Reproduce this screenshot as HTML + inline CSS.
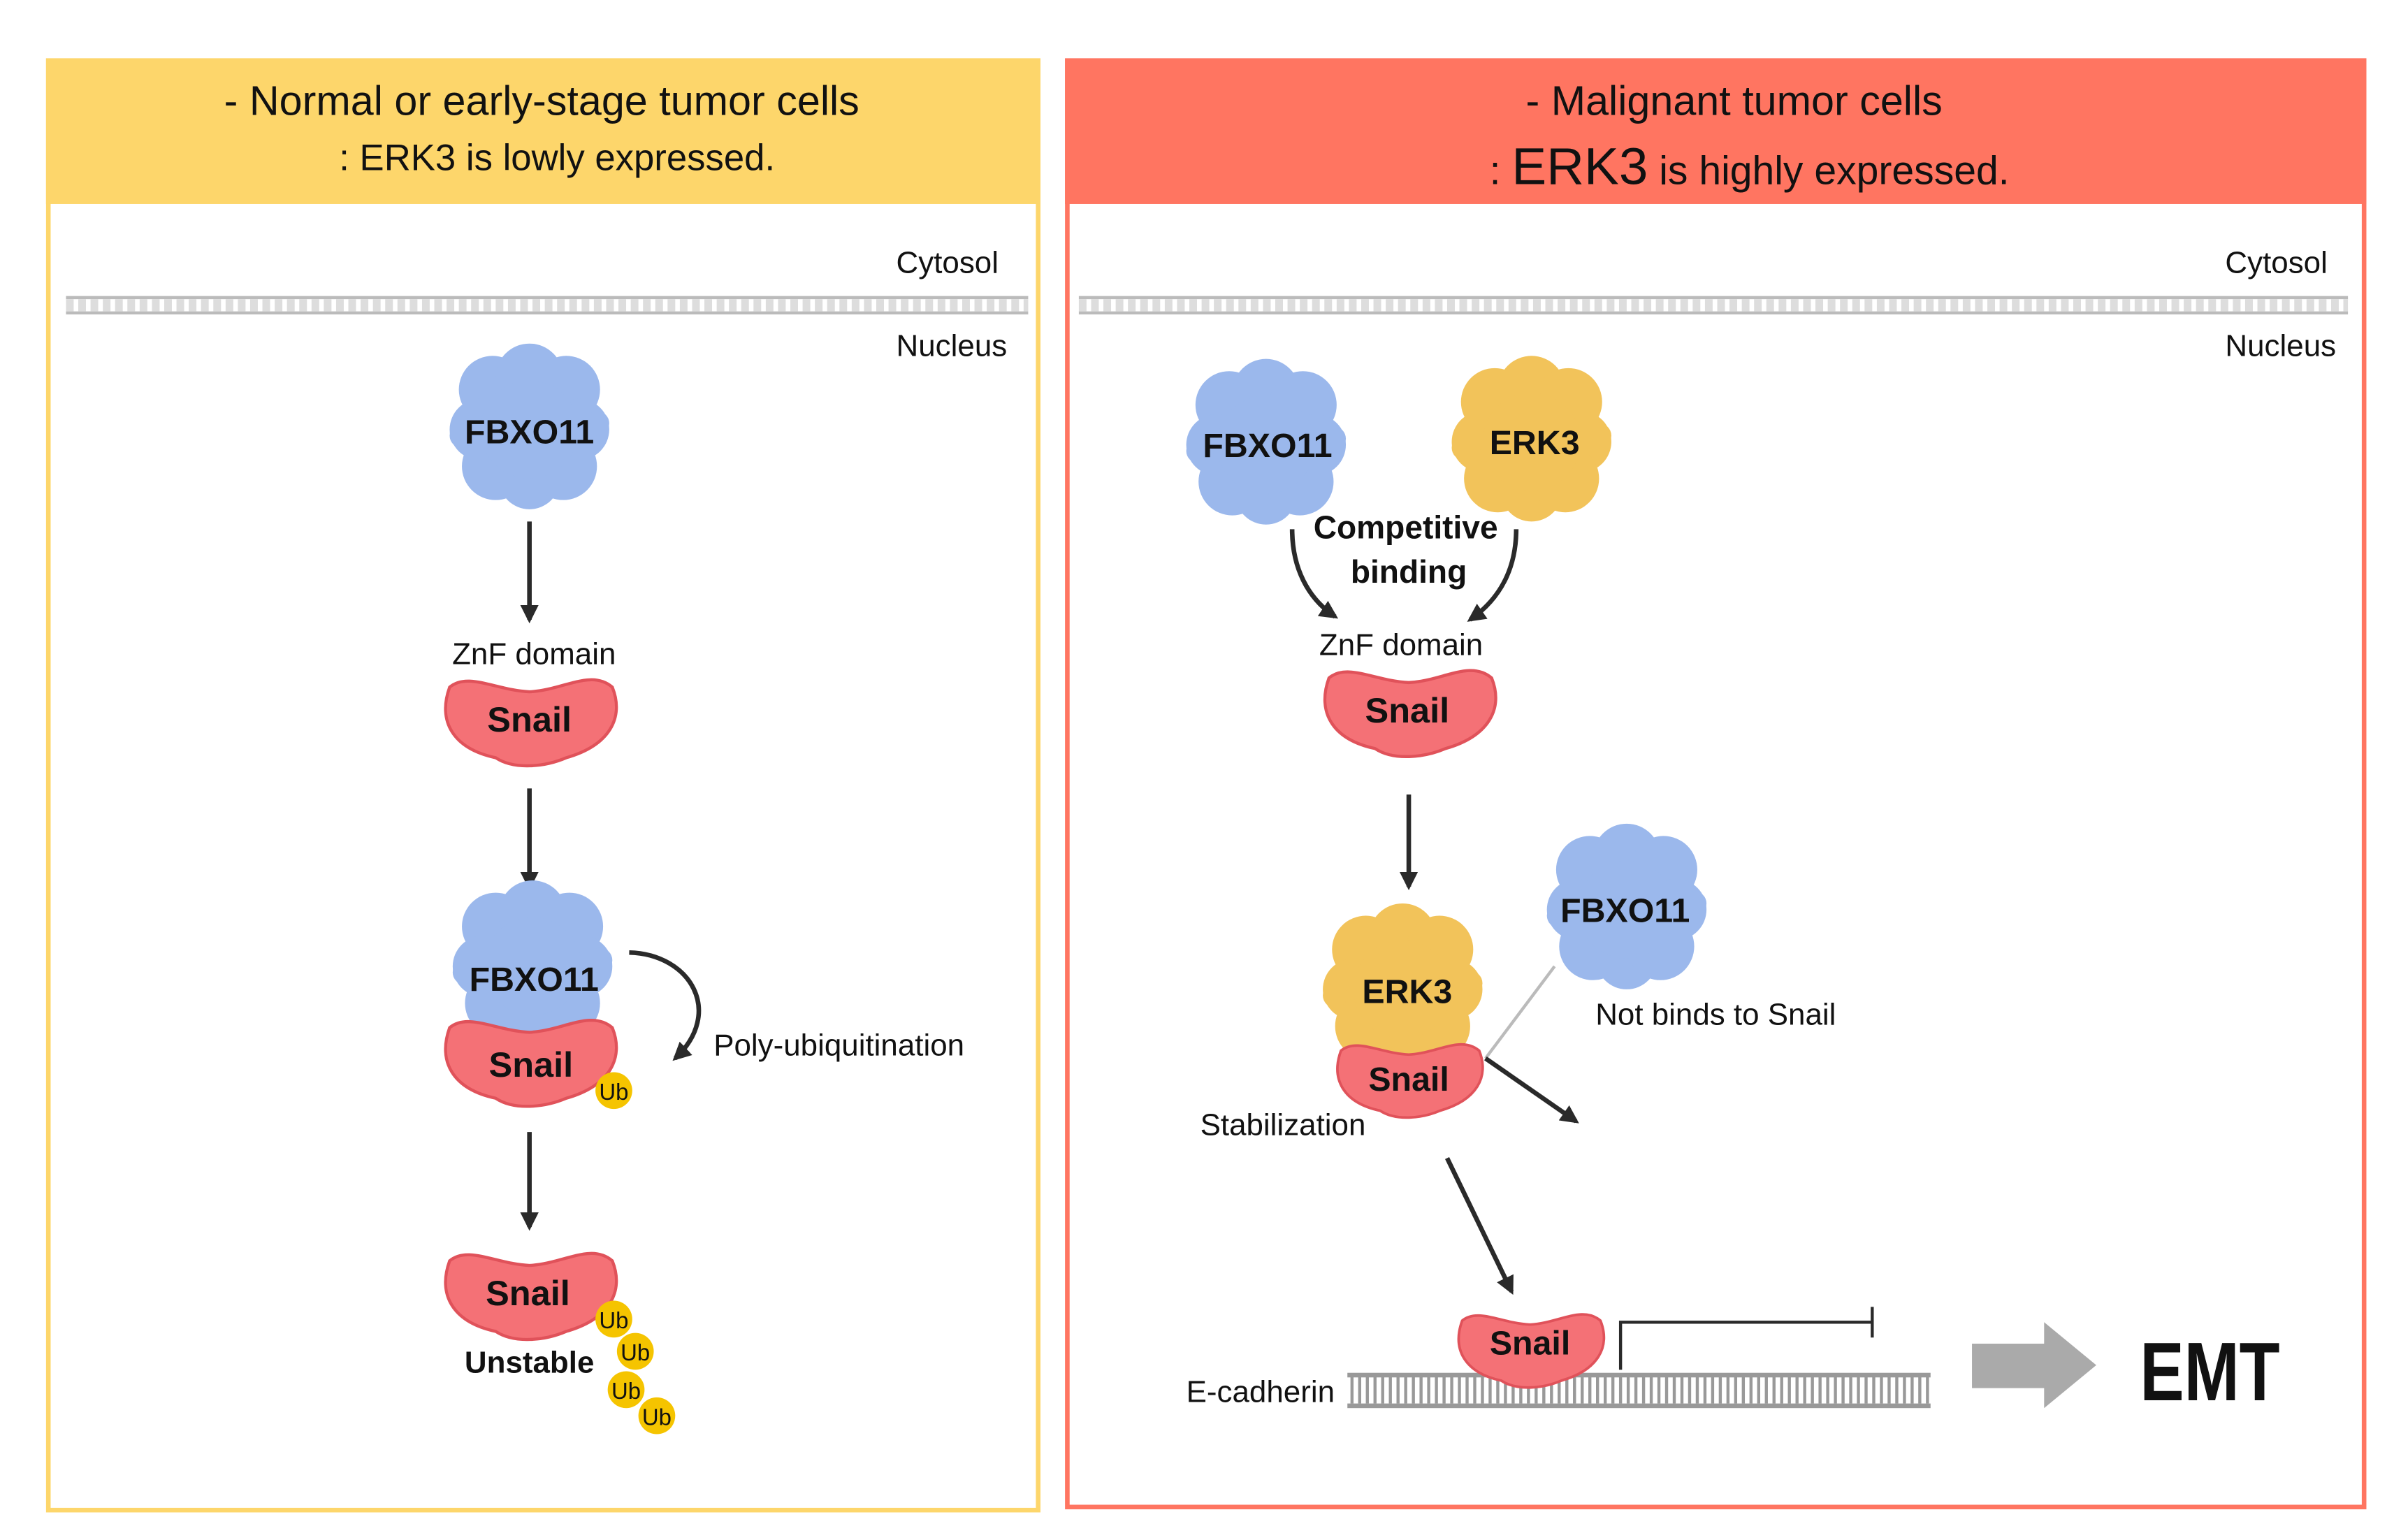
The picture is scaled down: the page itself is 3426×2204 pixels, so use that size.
<!DOCTYPE html>
<html><head><meta charset="utf-8"><style>
html,body{margin:0;padding:0;background:#fff;}
svg{display:block;}
text{font-family:"Liberation Sans",sans-serif;fill:#111;}
.b{font-weight:bold;}
</style></head><body>
<svg width="3426" height="2204" viewBox="0 0 1560 1004" preserveAspectRatio="none" xmlns="http://www.w3.org/2000/svg">
<defs>
<g id="cl">
<circle cx="-24" cy="-26" r="22"/><circle cx="0" cy="-34" r="22"/><circle cx="24" cy="-26" r="22"/>
<circle cx="-32" cy="0" r="20"/><circle cx="32" cy="0" r="20"/><circle cx="-22" cy="24" r="22"/>
<circle cx="0" cy="32" r="20"/><circle cx="22" cy="24" r="22"/><circle cx="0" cy="0" r="32"/>
<circle cx="-44" cy="4" r="8"/><circle cx="44" cy="-4" r="8"/>
</g>
<path id="sn" d="M-52,-20 C-40,-30 -22,-18 0,-17 C22,-18 40,-32 54,-20 C62,0 52,18 24,26 C10,32 -10,34 -22,26 C-50,20 -60,2 -52,-20Z"/>
<marker id="ah" viewBox="0 0 10 10" refX="8" refY="5" markerWidth="4" markerHeight="4" orient="auto"><path d="M0,0 L10,5 L0,10Z" fill="#2a2a2a"/></marker>
</defs>
<rect width="1560" height="1004" fill="#fff"/>
<!-- left panel -->
<rect x="31.5" y="39.5" width="645" height="945" fill="#fff" stroke="#FDD66B" stroke-width="3"/>
<rect x="30" y="38" width="648" height="95" fill="#FDD66B"/>
<text x="353" y="75" text-anchor="middle" font-size="27">- Normal or early-stage tumor cells</text>
<text x="363" y="111" text-anchor="middle" font-size="24">: ERK3 is lowly expressed.</text>
<!-- right panel -->
<rect x="695.5" y="39.5" width="845" height="943" fill="#fff" stroke="#FF7561" stroke-width="3"/>
<rect x="694" y="38" width="848" height="95" fill="#FF7561"/>
<text x="1130" y="75" text-anchor="middle" font-size="27">- Malignant tumor cells</text>
<text x="1140" y="120" text-anchor="middle" font-size="26">: <tspan font-size="34">ERK3</tspan> is highly expressed.</text>
<!-- membranes -->
<g stroke="#bbb" stroke-width="2">
<line x1="43" y1="194" x2="670" y2="194"/><line x1="43" y1="204" x2="670" y2="204"/>
<line x1="43" y1="199" x2="670" y2="199" stroke-dasharray="5,3" stroke="#ddd" stroke-width="8"/>
<line x1="703" y1="194" x2="1530" y2="194"/><line x1="703" y1="204" x2="1530" y2="204"/>
<line x1="703" y1="199" x2="1530" y2="199" stroke-dasharray="5,3" stroke="#ddd" stroke-width="8"/>
</g>
<text x="584" y="178" font-size="20">Cytosol</text>
<text x="584" y="232" font-size="20">Nucleus</text>
<text x="1450" y="178" font-size="20">Cytosol</text>
<text x="1450" y="232" font-size="20">Nucleus</text>

<!-- LEFT column -->
<use href="#cl" x="345" y="280" fill="#9BB8EC"/>
<text x="345" y="289" text-anchor="middle" font-size="22" class="b">FBXO11</text>
<line x1="345" y1="340" x2="345" y2="404" stroke="#2a2a2a" stroke-width="3" marker-end="url(#ah)"/>
<text x="348" y="433" text-anchor="middle" font-size="20">ZnF domain</text>
<use href="#sn" x="345" y="468" fill="#F47176" stroke="#E0525A" stroke-width="2"/>
<text x="345" y="477" text-anchor="middle" font-size="23" class="b">Snail</text>
<line x1="345" y1="514" x2="345" y2="578" stroke="#2a2a2a" stroke-width="3" marker-end="url(#ah)"/>
<use href="#cl" x="347" y="630" fill="#9BB8EC"/>
<text x="348" y="646" text-anchor="middle" font-size="22" class="b">FBXO11</text>
<use href="#sn" x="345" y="690" fill="#F47176" stroke="#E0525A" stroke-width="2"/>
<text x="346" y="702" text-anchor="middle" font-size="23" class="b">Snail</text>
<circle cx="400" cy="711" r="12" fill="#F5C400"/><text x="400" y="717" text-anchor="middle" font-size="15">Ub</text>
<path d="M410,621 C450,622 472,660 440,690" fill="none" stroke="#2a2a2a" stroke-width="3" marker-end="url(#ah)"/>
<text x="465" y="688" font-size="20">Poly-ubiquitination</text>
<line x1="345" y1="738" x2="345" y2="800" stroke="#2a2a2a" stroke-width="3" marker-end="url(#ah)"/>
<use href="#sn" x="345" y="842" fill="#F47176" stroke="#E0525A" stroke-width="2"/>
<text x="344" y="851" text-anchor="middle" font-size="23" class="b">Snail</text>
<text x="345" y="895" text-anchor="middle" font-size="20" class="b">Unstable</text>
<g fill="#F5C400"><circle cx="400" cy="860" r="12"/><circle cx="414" cy="881" r="12"/><circle cx="408" cy="906" r="12"/><circle cx="428" cy="923" r="12"/></g>
<g font-size="15" text-anchor="middle"><text x="400" y="866">Ub</text><text x="414" y="887">Ub</text><text x="408" y="912">Ub</text><text x="428" y="929">Ub</text></g>

<!-- RIGHT column -->
<use href="#cl" x="825" y="290" fill="#9BB8EC"/>
<text x="826" y="298" text-anchor="middle" font-size="22" class="b">FBXO11</text>
<use href="#cl" x="998" y="288" fill="#F2C35A"/>
<text x="1000" y="296" text-anchor="middle" font-size="22" class="b">ERK3</text>
<text x="916" y="351" text-anchor="middle" font-size="21" class="b">Competitive</text>
<text x="918" y="380" text-anchor="middle" font-size="21" class="b">binding</text>
<path d="M842,345 C842,370 852,390 870,402" fill="none" stroke="#2a2a2a" stroke-width="3" marker-end="url(#ah)"/>
<path d="M988,345 C988,370 978,390 958,404" fill="none" stroke="#2a2a2a" stroke-width="3" marker-end="url(#ah)"/>
<text x="913" y="427" text-anchor="middle" font-size="20">ZnF domain</text>
<use href="#sn" x="918" y="462" fill="#F47176" stroke="#E0525A" stroke-width="2"/>
<text x="917" y="471" text-anchor="middle" font-size="23" class="b">Snail</text>
<line x1="918" y1="518" x2="918" y2="578" stroke="#2a2a2a" stroke-width="3" marker-end="url(#ah)"/>
<use href="#cl" x="914" y="645" fill="#F2C35A"/>
<text x="917" y="654" text-anchor="middle" font-size="22" class="b">ERK3</text>
<g transform="translate(918,702) scale(0.85)"><use href="#sn" fill="#F47176" stroke="#E0525A" stroke-width="2"/></g>
<text x="918" y="711" text-anchor="middle" font-size="22" class="b">Snail</text>
<text x="836" y="740" text-anchor="middle" font-size="20">Stabilization</text>
<use href="#cl" x="1060" y="593" fill="#9BB8EC"/>
<text x="1059" y="601" text-anchor="middle" font-size="22" class="b">FBXO11</text>
<text x="1118" y="668" text-anchor="middle" font-size="20">Not binds to Snail</text>
<line x1="1013" y1="630" x2="968" y2="690" stroke="#bbb" stroke-width="2"/>
<line x1="968" y1="690" x2="1027" y2="731" stroke="#2a2a2a" stroke-width="3" marker-end="url(#ah)"/>
<line x1="943" y1="755" x2="985" y2="842" stroke="#2a2a2a" stroke-width="3" marker-end="url(#ah)"/>
<!-- DNA -->
<rect x="878" y="895" width="380" height="3" fill="#999"/>
<rect x="878" y="915" width="380" height="3" fill="#999"/>
<line x1="880" y1="906" x2="1258" y2="906" stroke="#999" stroke-width="18" stroke-dasharray="2,3"/>
<g transform="translate(997,878) scale(0.85)"><use href="#sn" fill="#F47176" stroke="#E0525A" stroke-width="2"/></g>
<text x="997" y="883" text-anchor="middle" font-size="22" class="b">Snail</text>
<text x="773" y="914" font-size="20">E-cadherin</text>
<polyline points="1056,893 1056,862 1220,862" fill="none" stroke="#2a2a2a" stroke-width="2"/>
<line x1="1220" y1="852" x2="1220" y2="872" stroke="#2a2a2a" stroke-width="2"/>
<polygon points="1285,876 1332,876 1332,862 1366,890 1332,918 1332,905 1285,905" fill="#aaa"/>
<text x="1440" y="913" text-anchor="middle" font-size="54" class="b" transform="translate(1440,0) scale(0.8,1) translate(-1440,0)">EMT</text>
</svg>
</body></html>
